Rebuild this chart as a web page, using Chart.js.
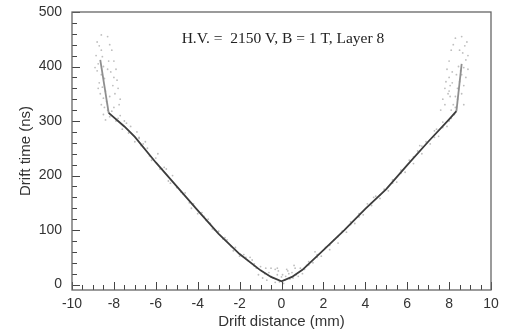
<!DOCTYPE html>
<html>
<head>
<meta charset="utf-8">
<script src="https://cdn.jsdelivr.net/npm/chart.js@4"></script>
<style>
html,body{margin:0;padding:0;background:#fff;}
#wrap{width:513px;height:333px;position:relative;}
</style>
</head>
<body>
<div id="wrap"><canvas id="c" width="513" height="333"></canvas></div>
<script>
// Fitted drift-time curve
const curveX = [-8.65, -8.25, -7.5, -7, -6, -5, -4, -3, -2, -1, -0.5, 0, 0.5, 1, 2, 3, 4, 5, 6, 7, 8, 8.35, 8.6];
const curveT = [412, 315, 290, 271, 224, 180, 136, 93, 56, 26, 14, 6, 14, 27, 63, 100, 139, 175, 219, 262, 303, 318, 405];

const hitX = [-8.8,-8.7,-8.6,-8.85,-8.55,-8.75,-8.5,-8.8,-8.6,-8.45,-8.7,-8.55,-8.4,-8.65,-8.5,-8.35,-8.6,-8.45,-8.3,-8.5,-8.2,-8.4,-8.1,-8.0,-7.9,-8.3,-8.25,-8.9,-8.75,-8.2,
  -7.8,-7.6,-7.5,-7.3,-7.2,-7.0,-6.9,-6.7,-6.6,-6.4,-6.2,-6.0,-5.8,-5.6,-5.4,-5.2,-5.0,-4.8,-4.6,-4.4,-4.2,-4.0,-3.8,-3.6,-3.4,-3.2,-3.0,-2.8,-2.6,-2.4,-2.2,-2.0,-1.8,-1.6,-1.4,-1.2,-1.0,-0.8,-0.6,-0.4,-0.2,-0.1,0,0.1,0.2,0.4,0.5,0.7,0.9,1.1,1.3,1.5,1.7,1.9,2.1,2.3,2.5,2.7,2.9,3.1,3.3,3.5,3.7,3.9,4.1,4.3,4.5,4.7,4.9,5.1,5.3,5.5,5.7,5.9,6.1,6.3,6.5,6.7,6.9,7.1,7.3,7.5,7.7,7.9,8.1,8.0,
  8.2,8.3,8.4,8.5,8.6,8.7,8.8,8.65,8.75,8.85,8.5,8.9,8.4,8.6,8.7,8.3,8.55,8.8,8.45,8.25,8.1,8.7,8.9,8.35,
  -7.7,-7.4,-6.8,-6.5,-5.9,-5.5,-3.5,-1.5,-0.5,0.6,0.3,-0.3,1.6,4.4,6.6,7.4,7.8,8.0,8.15,8.05,
  -8.0,-7.9,-7.8,-7.7,-8.1,-8.2,-7.95,-8.05,-7.85,-8.3,-8.6,-8.15,-7.75,-8.0,
  8.0,7.9,7.8,7.7,8.1,8.2,7.95,8.05,7.85,8.3,8.6,8.15,7.6,8.0,
  -0.9,-0.7,-0.5,-0.3,-0.15,0.05,0.15,0.35,0.55,0.8,1.0,-1.1,-0.2,0.25,0.65,-0.75,1.2,-1.3,
  -6.8,-6.3,-5.7,-5.3,-4.7,-4.3,-3.7,-3.3,-2.7,-2.3,-1.7,-1.3,1.3,1.7,2.3,2.7,3.3,3.7,4.3,4.7,5.3,5.7,6.3,6.7,7.3,7.7];
const hitT = [445,438,430,420,418,405,400,392,385,378,370,362,355,350,342,336,330,325,320,312,308,302,318,325,300,395,410,398,360,345,
  305,285,300,278,290,262,280,255,258,250,228,232,212,215,190,200,178,170,168,150,148,130,132,118,112,100,98,84,82,70,68,52,55,44,45,30,33,20,22,12,18,5,14,2,15,10,22,18,30,28,42,40,55,52,68,64,82,76,98,96,115,112,130,128,148,145,162,158,175,172,192,188,210,206,228,222,245,240,262,258,282,272,298,290,320,300,
  330,345,360,372,385,398,412,425,438,445,430,420,340,350,330,325,392,380,400,312,305,365,395,385,
  310,296,270,262,240,212,120,50,30,35,25,28,60,160,255,285,330,355,370,345,
  380,395,360,340,430,440,350,365,375,455,458,390,330,410,
  380,395,360,340,430,440,350,365,372,452,455,390,320,410,
  12,8,15,4,25,18,8,20,12,15,20,18,30,28,30,30,35,38,
  268,236,212,186,166,140,125,102,86,62,50,34,36,50,72,88,110,124,150,164,186,204,234,254,270,288];

const yTicks = [0, 100, 200, 300, 400, 500];
const xTicks = [-10, -8, -6, -4, -2, 0, 2, 4, 6, 8, 10];
const annotation = 'H.V. =  2150 V, B = 1 T, Layer 8';

const curveData = curveX.map((x, i) => ({x: x, y: curveT[i]}));
const hitData = hitX.map((x, i) => ({x: x, y: hitT[i]}));

const PAD_L = 12, PAD_B = 2, PAD_T = 12, PAD_R = 22;
const SANS = '"Liberation Sans", Arial, Helvetica, sans-serif';
const innerTicks = {
  id: 'innerTicks',
  afterDraw(chart) {
    const ctx = chart.ctx, a = chart.chartArea;
    const xs = chart.scales.x, ys = chart.scales.y;
    ctx.save();
    ctx.strokeStyle = '#444';
    ctx.lineWidth = 1;
    ctx.beginPath();
    for (let v = -10; v <= 10.001; v += 0.5) {
      const px = Math.round(xs.getPixelForValue(v)) + 0.5;
      const major = Math.abs(v - Math.round(v / 2) * 2) < 1e-6;
      const len = major ? 8 : 5;
      ctx.moveTo(px, a.bottom);
      ctx.lineTo(px, a.bottom - len);
    }
    for (let v = 0; v <= 500; v += 20) {
      const py = Math.round(ys.getPixelForValue(v)) + 0.5;
      const major = v % 100 === 0;
      const len = major ? 8 : 5;
      ctx.moveTo(a.left, py);
      ctx.lineTo(a.left + len, py);
    }
    ctx.stroke();
    ctx.strokeStyle = '#666';
    ctx.lineWidth = 1.3;
    ctx.strokeRect(a.left, a.top, a.right - a.left, a.bottom - a.top);
    ctx.fillStyle = '#222';
    ctx.font = '15.5px "Liberation Serif", "Times New Roman", serif';
    ctx.textAlign = 'center';
    ctx.textBaseline = 'middle';
    ctx.fillText(annotation, xs.getPixelForValue(0.07), ys.getPixelForValue(450));
    ctx.restore();
  }
};

new Chart(document.getElementById('c'), {
  type: 'scatter',
  data: {
    datasets: [
      {
        data: hitData,
        pointRadius: 0.9,
        pointBorderWidth: 0,
        pointBackgroundColor: 'rgba(110,110,110,0.45)',
        showLine: false,
        order: 2
      },
      {
        data: curveData,
        showLine: true,
        pointRadius: 0,
        borderWidth: 1.8,
        borderColor: '#3c3c3c',
        tension: 0,
        segment: {
          borderColor: c => (c.p0DataIndex === 0 || c.p1DataIndex === curveX.length - 1) ? '#8f8f8f' : '#3c3c3c'
        },
        order: 1
      }
    ]
  },
  options: {
    responsive: false,
    animation: false,
    events: [],
    layout: {padding: {left: PAD_L, right: PAD_R, top: PAD_T, bottom: PAD_B}},
    plugins: {legend: {display: false}, tooltip: {enabled: false}},
    scales: {
      x: {
        type: 'linear', min: -10, max: 10,
        afterBuildTicks: s => { s.ticks = xTicks.map(v => ({value: v})); },
        afterFit: s => { s.height = 333 - 290 - PAD_B; s.paddingLeft = 0; s.paddingRight = 0; },
        grid: {display: false, drawTicks: false},
        border: {display: false},
        ticks: {color: '#333', padding: 6, font: {family: SANS, size: 14}, maxRotation: 0},
        title: {display: true, text: 'Drift distance (mm)', color: '#333', padding: {top: 0, bottom: 0}, font: {family: SANS, size: 15}}
      },
      y: {
        type: 'linear', min: -10, max: 500,
        afterBuildTicks: s => { s.ticks = yTicks.map(v => ({value: v})); },
        afterFit: s => { s.width = 72 - PAD_L; s.paddingTop = 0; s.paddingBottom = 0; },
        grid: {display: false, drawTicks: false},
        border: {display: false},
        ticks: {color: '#333', padding: 10, font: {family: SANS, size: 14}},
        title: {display: true, text: 'Drift time (ns)', color: '#333', padding: {top: 5, bottom: 0}, font: {family: SANS, size: 15}}
      }
    }
  },
  plugins: [innerTicks]
});
</script>
</body>
</html>
